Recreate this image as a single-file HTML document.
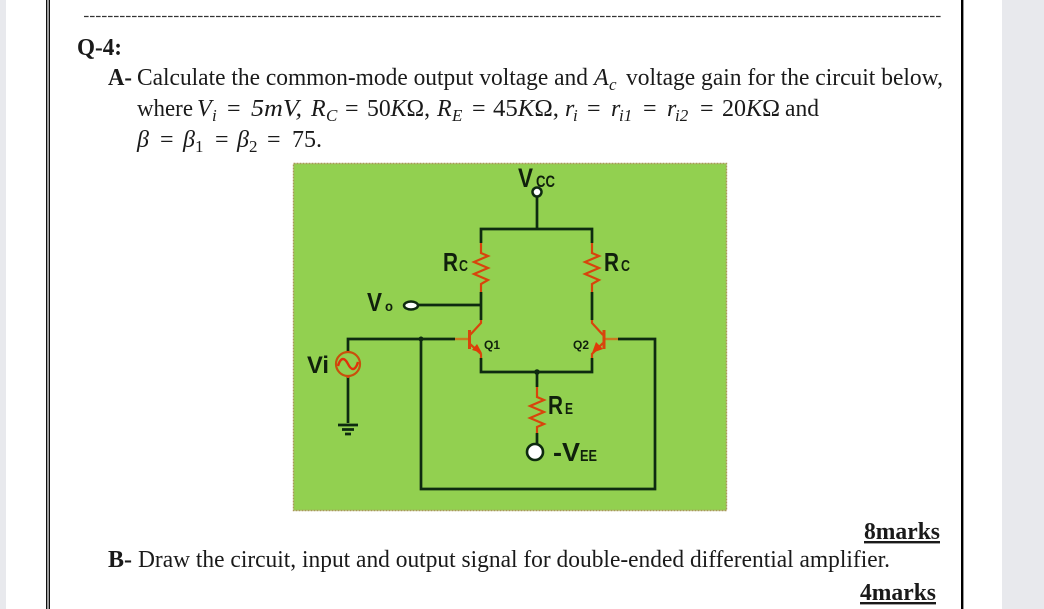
<!DOCTYPE html>
<html>
<head>
<meta charset="utf-8">
<style>
html,body{margin:0;padding:0;background:#fff;width:1044px;height:609px;overflow:hidden}
svg{display:block}
text{font-family:"Liberation Serif",serif;fill:#1a1a1a;font-size:24px}
.i{font-style:italic}
.s{font-size:17px}
.b{font-weight:bold}
.l{font-family:"Liberation Sans",sans-serif;font-weight:bold;fill:#10200c}
.w{fill:none;stroke:#0e2a10;stroke-width:2.700}
.o{fill:none;stroke:#d8440c;stroke-width:2.200}
</style>
</head>
<body>
<svg width="1044" height="609" viewBox="0 0 1044 609" xmlns="http://www.w3.org/2000/svg">
<rect width="1044" height="609" fill="#fff"/>
<rect x="0" y="0" width="6" height="609" fill="#e8e9ed"/>
<rect x="1002" y="0" width="42" height="609" fill="#e8e9ed"/>
<rect x="46" y="0" width="1.4" height="609" fill="#111"/>
<rect x="48.6" y="0" width="1.4" height="609" fill="#111"/>
<rect x="961" y="0" width="2.4" height="609" fill="#000"/>
<line x1="84" y1="16.5" x2="941" y2="16.5" stroke="#333" stroke-width="1.3" stroke-dasharray="4.6 1.4"/>

<text x="77" y="55" class="b" font-size="23" textLength="45" lengthAdjust="spacingAndGlyphs">Q-4:</text>

<text x="108" y="85" class="b" textLength="24" lengthAdjust="spacingAndGlyphs">A-</text>
<text x="137" y="85" textLength="451" lengthAdjust="spacingAndGlyphs">Calculate the common-mode output voltage and</text>
<text x="594" y="85" class="i">A</text><text x="609" y="90" class="i s">c</text>
<text x="626" y="85" textLength="317" lengthAdjust="spacingAndGlyphs">voltage gain for the circuit below,</text>

<text x="137" y="116" textLength="56" lengthAdjust="spacingAndGlyphs">where</text>
<text x="197" y="116" class="i">V</text><text x="212" y="121" class="i s">i</text>
<text x="227" y="116">=</text>
<text x="251" y="116" class="i" textLength="51" lengthAdjust="spacingAndGlyphs">5mV,</text>
<text x="311" y="116" class="i">R</text><text x="326" y="121" class="i s">C</text>
<text x="345" y="116">=</text>
<text x="367" y="116" textLength="63" lengthAdjust="spacingAndGlyphs">50<tspan class="i">K</tspan>Ω,</text>
<text x="437" y="116" class="i">R</text><text x="452" y="121" class="i s">E</text>
<text x="472" y="116">=</text>
<text x="493" y="116" textLength="66" lengthAdjust="spacingAndGlyphs">45<tspan class="i">K</tspan>Ω,</text>
<text x="565" y="116" class="i">r</text><text x="573" y="121" class="i s">i</text>
<text x="587" y="116">=</text>
<text x="611" y="116" class="i">r</text><text x="619" y="121" class="i s">i1</text>
<text x="643" y="116">=</text>
<text x="667" y="116" class="i">r</text><text x="675" y="121" class="i s">i2</text>
<text x="700" y="116">=</text>
<text x="722" y="116" textLength="58" lengthAdjust="spacingAndGlyphs">20<tspan class="i">K</tspan>Ω</text>
<text x="785" y="116" textLength="34" lengthAdjust="spacingAndGlyphs">and</text>

<text x="137" y="147" class="i">β</text>
<text x="160" y="147">=</text>
<text x="183" y="147" class="i">β</text><text x="195" y="152" class="s">1</text>
<text x="215" y="147">=</text>
<text x="237" y="147" class="i">β</text><text x="249" y="152" class="s">2</text>
<text x="267" y="147">=</text>
<text x="292" y="147" textLength="30" lengthAdjust="spacingAndGlyphs">75.</text>

<!-- green panel -->
<rect x="293.5" y="163.5" width="433" height="347" fill="#92d050" stroke="#a89858" stroke-width="1.400" stroke-dasharray="2 1"/>

<!-- wires -->
<path class="w" d="M537 197V229M481 243V229H592V243"/>
<path class="w" d="M481 292V320M592 292V320"/>
<path class="w" d="M418 305H481"/>
<path class="w" d="M348 351V339H455"/>
<path class="w" d="M421 339V489H655V339H618"/>
<path class="w" d="M481 358V372H592V358"/>
<path class="w" d="M537 372V387M537 433V444"/>
<path class="w" d="M348 377V423"/>
<path class="w" d="M338 425H358M342 429.500H354M345 434H351"/>
<circle cx="421" cy="339" r="2.500" fill="#0e2a10"/>
<circle cx="537" cy="372" r="2.800" fill="#0e2a10"/>

<!-- resistors -->
<path class="o" d="M481 243V253L488 256L474 262L488 268L474 274L488 280L481 284V292"/>
<path class="o" d="M592 243V253L599 256L585 262L599 268L585 274L599 280L592 284V292"/>
<path class="o" d="M537 387V397L544 400L530 406L544 412L530 418L544 424L537 427V433"/>

<!-- Q1 -->
<path d="M455 339H468" fill="none" stroke="#c97a20" stroke-width="2.400"/>
<path d="M469.500 330V349" fill="none" stroke="#d8440c" stroke-width="3"/>
<path class="o" d="M470 335L481 323V320M470 344L481 354V358"/>
<path d="M482 353L472 350L477 344Z" fill="#e03a08"/>
<!-- Q2 -->
<path d="M605 339H618" fill="none" stroke="#c97a20" stroke-width="2.400"/>
<path d="M604 330V349" fill="none" stroke="#d8440c" stroke-width="3"/>
<path class="o" d="M603 335L592 323V320M603 343L592 354V358"/>
<path d="M592 353L603 349L596 342Z" fill="#e03a08"/>

<!-- source -->
<circle cx="348" cy="364" r="12" fill="none" stroke="#c8500c" stroke-width="2.200"/>
<path d="M338 366C341 356 345 358 348 364C351 370 355 372 358 362" fill="none" stroke="#e0300a" stroke-width="2.400"/>
<path class="o" d="M348 351V352M348 376V378"/>

<!-- terminals -->
<circle cx="537" cy="192" r="4.500" fill="#fff" stroke="#0e2a10" stroke-width="2.500"/>
<ellipse cx="411" cy="305.500" rx="7" ry="4" fill="#fff" stroke="#0e2a10" stroke-width="2.500"/>
<circle cx="535" cy="452" r="8" fill="#fff" stroke="#0e2a10" stroke-width="2.600"/>

<!-- labels -->
<text x="518" y="187" class="l" style="font-size:27px" textLength="15" lengthAdjust="spacingAndGlyphs">V</text>
<text x="536" y="187" class="l" style="font-size:17px" textLength="19" lengthAdjust="spacingAndGlyphs">CC</text>
<text x="443" y="271" class="l" style="font-size:26px" textLength="15" lengthAdjust="spacingAndGlyphs">R</text>
<text x="459" y="271" class="l" style="font-size:16px" textLength="9" lengthAdjust="spacingAndGlyphs">C</text>
<text x="604" y="271" class="l" style="font-size:26px" textLength="15" lengthAdjust="spacingAndGlyphs">R</text>
<text x="621" y="271" class="l" style="font-size:16px" textLength="9" lengthAdjust="spacingAndGlyphs">C</text>
<text x="367" y="311" class="l" style="font-size:26px" textLength="15" lengthAdjust="spacingAndGlyphs">V</text>
<text x="385" y="311" class="l" style="font-size:14px" textLength="8" lengthAdjust="spacingAndGlyphs">o</text>
<text x="307" y="373" class="l" style="font-size:24px" textLength="22" lengthAdjust="spacingAndGlyphs">Vi</text>
<text x="484" y="349" class="l" style="font-size:12px" textLength="16" lengthAdjust="spacingAndGlyphs">Q1</text>
<text x="573" y="349" class="l" style="font-size:12px" textLength="16" lengthAdjust="spacingAndGlyphs">Q2</text>
<text x="548" y="414" class="l" style="font-size:26px" textLength="15" lengthAdjust="spacingAndGlyphs">R</text>
<text x="565" y="414" class="l" style="font-size:16px" textLength="8" lengthAdjust="spacingAndGlyphs">E</text>
<text x="553" y="461" class="l" style="font-size:26px" textLength="27" lengthAdjust="spacingAndGlyphs">-V</text>
<text x="580" y="461" class="l" style="font-size:16px" textLength="17" lengthAdjust="spacingAndGlyphs">EE</text>

<!-- bottom text -->
<text x="864" y="539" class="b" textLength="76" lengthAdjust="spacingAndGlyphs" text-decoration="underline">8marks</text>
<text x="108" y="567" class="b" textLength="24" lengthAdjust="spacingAndGlyphs">B-</text>
<text x="138" y="567" textLength="752" lengthAdjust="spacingAndGlyphs">Draw the circuit, input and output signal for double-ended differential amplifier.</text>
<text x="860" y="600" class="b" textLength="76" lengthAdjust="spacingAndGlyphs" text-decoration="underline">4marks</text>
</svg>
</body>
</html>
